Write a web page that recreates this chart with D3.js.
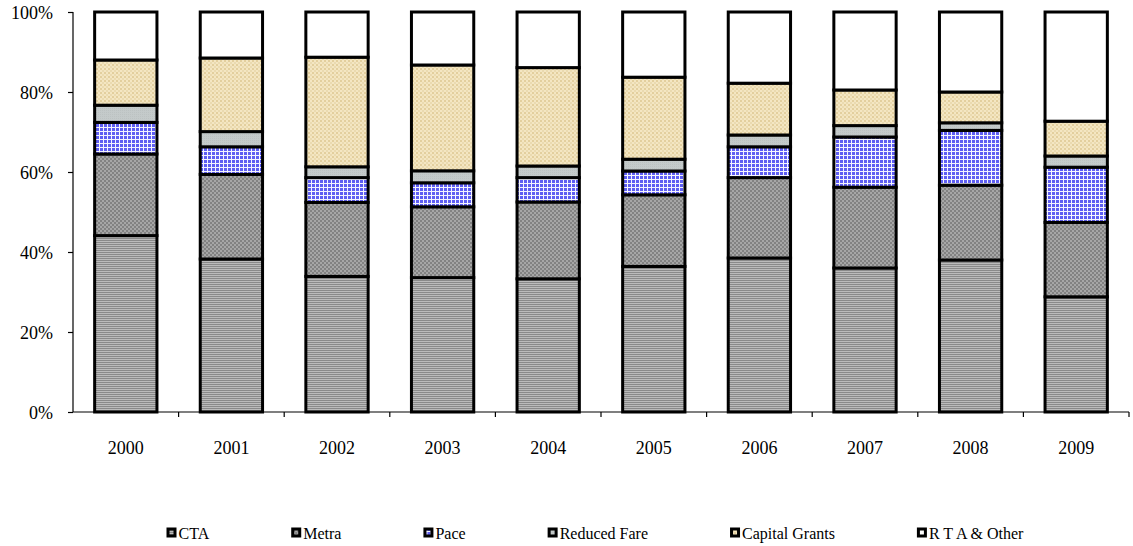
<!DOCTYPE html>
<html>
<head>
<meta charset="utf-8">
<script src="https://cdn.jsdelivr.net/npm/d3@7"></script>
<style>
  html, body { margin: 0; padding: 0; background: #fff; }
  svg { display: block; }
  text { font-family: "Liberation Serif", "Times New Roman", serif; fill: #000; }
</style>
</head>
<body>
<svg id="chart" width="1133" height="546"></svg>
<script>
// ---- Data (percent share of each year's total) ----
const years = ["2000","2001","2002","2003","2004","2005","2006","2007","2008","2009"];
const seriesNames = ["CTA","Metra","Pace","Reduced Fare","Capital Grants","R T A & Other"];
const cta           = [44.1, 38.25, 33.9, 33.6, 33.3, 36.4, 38.5, 36.0, 38.0, 28.8];
const metra         = [20.4, 21.15, 18.5, 17.7, 19.2, 17.9, 20.1, 20.2, 18.7, 18.6];
const pace          = [7.9, 6.9, 6.2, 6.0, 6.1, 5.95, 7.7, 12.55, 13.7, 13.8];
const reducedFare   = [4.3, 3.8, 2.7, 3.0, 2.9, 2.95, 2.95, 2.85, 1.9, 2.8];
const capitalGrants = [11.3, 18.4, 27.4, 26.45, 24.6, 20.5, 12.95, 8.9, 7.7, 8.7];
const rtaOther      = [12.0, 11.5, 11.3, 13.25, 13.9, 16.3, 17.8, 19.5, 20.0, 27.3];
const yTickValues   = [0, 0.2, 0.4, 0.6, 0.8, 1.0];

const seriesValues = [cta, metra, pace, reducedFare, capitalGrants, rtaOther];
const rows = years.map((yr, i) => {
  const r = { year: yr };
  seriesNames.forEach((s, k) => { r[s] = seriesValues[k][i]; });
  return r;
});

const svg = d3.select("#chart");
svg.append("rect").attr("width", 1133).attr("height", 546).attr("fill", "#fff");

// ---- Patterns ----
const defs = svg.append("defs");
function pat(id, w, h, build) {
  const p = defs.append("pattern").attr("id", id).attr("patternUnits", "userSpaceOnUse")
    .attr("width", w).attr("height", h);
  build(p);
}
pat("p0", 2, 2, p => {
  p.append("rect").attr("width", 2).attr("height", 2).attr("fill", "#bbbbbb");
  p.append("rect").attr("width", 2).attr("height", 1).attr("fill", "#8a8a8a");
});
pat("p1", 4, 4, p => {
  p.append("rect").attr("width", 4).attr("height", 4).attr("fill", "#a6a6a6");
  p.append("rect").attr("width", 2).attr("height", 2).attr("fill", "#828282");
  p.append("rect").attr("x", 2).attr("y", 2).attr("width", 2).attr("height", 2).attr("fill", "#828282");
});
pat("p2", 4, 4, p => {
  p.append("rect").attr("width", 4).attr("height", 4).attr("fill", "#5e5ef2");
  p.append("rect").attr("x", 3).attr("width", 1).attr("height", 4).attr("fill", "#f4f4ff");
  p.append("rect").attr("y", 3).attr("width", 4).attr("height", 1).attr("fill", "#f4f4ff");
});
pat("p3", 2, 2, p => {
  p.append("rect").attr("width", 2).attr("height", 2).attr("fill", "#c4caca");
  p.append("rect").attr("width", 1).attr("height", 1).attr("fill", "#bcc2c2");
});
pat("p4", 4, 4, p => {
  p.append("rect").attr("width", 4).attr("height", 4).attr("fill", "#f4e6c2");
  p.append("rect").attr("width", 2).attr("height", 2).attr("fill", "#e3cf9e");
  p.append("rect").attr("x", 2).attr("y", 2).attr("width", 2).attr("height", 2).attr("fill", "#eadab0");
});
pat("p5", 2, 2, p => {
  p.append("rect").attr("width", 2).attr("height", 2).attr("fill", "#ffffff");
});

// ---- Scales ----
const plotLeft = 73, plotRight = 1129, plotTop = 12, plotBottom = 412;
const x = d3.scaleBand().domain(years).range([plotLeft, plotRight]).paddingInner(0.41).paddingOuter(0.205);
const y = d3.scaleLinear().domain([0, 1]).range([plotBottom, plotTop]);

const stack = d3.stack().keys(seriesNames).offset(d3.stackOffsetExpand);
const layers = stack(rows);

// ---- Bars ----
const g = svg.append("g");
layers.forEach((layer, k) => {
  g.append("g").selectAll("rect").data(layer).join("rect")
    .attr("x", d => x(d.data.year))
    .attr("width", x.bandwidth())
    .attr("y", d => y(d[1]))
    .attr("height", d => y(d[0]) - y(d[1]))
    .attr("fill", `url(#p${k})`)
    .attr("stroke", "#000")
    .attr("stroke-width", 3);
});

// ---- Y axis ----
const yAxis = svg.append("g").attr("transform", `translate(${plotLeft},0)`)
  .call(d3.axisLeft(y).tickValues(yTickValues).tickFormat(d3.format(".0%")).tickSize(5).tickPadding(15));
yAxis.selectAll("text").attr("font-size", 18).attr("dy", "0.38em");
yAxis.selectAll("path,line").attr("stroke", "#000").attr("stroke-width", 1.2);
yAxis.select(".domain").attr("d", `M0,${plotBottom}V${plotTop}`);

// ---- X axis ----
const xAxis = svg.append("g").attr("transform", `translate(0,${plotBottom})`)
  .call(d3.axisBottom(x).tickSize(0).tickPadding(29));
xAxis.selectAll("text").attr("font-size", 18);
xAxis.select(".domain").attr("d", `M${plotLeft},0H${plotRight}`).attr("stroke", "#000").attr("stroke-width", 1.2);
const boundaries = years.map(yr => x(yr) + x.bandwidth() / 2 + x.step() / 2);
xAxis.append("g").selectAll("line").data(boundaries).join("line")
  .attr("x1", d => d).attr("x2", d => d).attr("y1", 0).attr("y2", 5)
  .attr("stroke", "#000").attr("stroke-width", 1.2);

// ---- Legend ----
const legend = svg.append("g").attr("transform", "translate(166.5,0)");
let lx = 0;
seriesNames.forEach((name, k) => {
  const item = legend.append("g").attr("transform", `translate(${lx},0)`);
  item.append("rect").attr("x", 1.5).attr("y", 529).attr("width", 7).attr("height", 7)
    .attr("fill", `url(#p${k})`).attr("stroke", "#000").attr("stroke-width", 3);
  const t = item.append("text").attr("x", 12).attr("y", 539).attr("font-size", 16).text(name);
  lx += 12 + t.node().getComputedTextLength() + 82;
});
</script>
</body>
</html>
